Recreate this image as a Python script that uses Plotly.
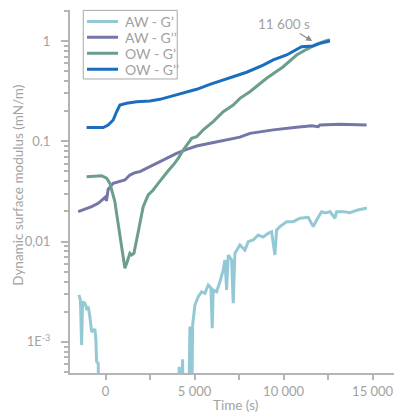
import plotly.graph_objects as go

# ---------------- data ----------------
aw_g1_t = [-1500, -1416, -1348, -1292, -1163, -1067, -978, -882, -787, -697, -601, -545, -506, -416, -360,
           4079, 4135, 4202, 4326, 4371, 4641, 4736, 4820, 4888, 5017, 5202, 5393, 5579, 5764, 5916, 5989,
           6045, 6236, 6421, 6607, 6702, 6798, 6888, 7079, 7169, 7264, 7545, 7826, 8011, 8292, 8573, 8854,
           9135, 9326, 9511, 9607, 9792, 10169, 10540, 10916, 11382, 11663, 11854, 12135, 12377, 12601,
           12882, 12977, 13348, 13724, 14174, 14680]
aw_g1_v = [0.00294, 0.00262, 0.00093, 0.00252, 0.00243, 0.00216, 0.00224, 0.00178, 0.00126, 0.00131, 0.00134,
           0.00104, 0.000635, 0.000612, 0.0001,
           0.0001, 0.000566, 0.0001, 0.00067, 0.0001, 0.0001, 0.00142, 0.0001, 0.00147, 0.00233, 0.00282,
           0.00316, 0.00305, 0.00369, 0.00345, 0.00137, 0.00329, 0.00316, 0.00398, 0.00521, 0.00656, 0.00329,
           0.00735, 0.00656, 0.00243, 0.00764, 0.00925, 0.00824, 0.00998, 0.01038, 0.01164, 0.0111, 0.0121,
           0.01256, 0.00735, 0.01305, 0.0141, 0.0158, 0.0158, 0.0171, 0.01746, 0.0141, 0.0164, 0.01987,
           0.0193, 0.0199, 0.0171, 0.0199, 0.0199, 0.0194, 0.0207, 0.0216]

aw_g2_t = [-1539, -1163, -787, -416, -135, 0, 45, 146, 427, 803, 1084, 1365, 1646, 1927, 2303, 2865, 3427,
           3989, 4551, 5112, 5860, 6607, 7545, 8107, 9416, 10730, 11573, 11944, 12039, 13163, 14663]
aw_g2_v = [0.01986, 0.0210, 0.0223, 0.0241, 0.0264, 0.0279, 0.0254, 0.0334, 0.0381, 0.0395, 0.0411, 0.0461,
           0.0486, 0.0498, 0.0538, 0.0604, 0.0677, 0.0759, 0.0832, 0.0898, 0.0955, 0.1014, 0.110, 0.120,
           0.130, 0.138, 0.143, 0.140, 0.1455, 0.148, 0.1455]

ow_g1_t = [-1067, -225, 56, 242, 393, 522, 618, 803, 955, 1084, 1213, 1365, 1461, 1590, 1742, 1927, 2112,
           2393, 2674, 2955, 3236, 3517, 3798, 4079, 4360, 4640, 4832, 5112, 5483, 6045, 6607, 7169, 7545,
           8107, 9045, 9978, 10730, 11292, 11854, 12506, 12600]
ow_g1_v = [0.0444, 0.0454, 0.0428, 0.0381, 0.0303, 0.0250, 0.0191, 0.0112, 0.00764, 0.00542, 0.0063, 0.00764,
           0.00735, 0.00764, 0.01038, 0.0152, 0.0223, 0.0292, 0.0327, 0.0381, 0.0444, 0.0509, 0.0580, 0.0677,
           0.0819, 0.0962, 0.107, 0.111, 0.130, 0.157, 0.197, 0.230, 0.268, 0.312, 0.425, 0.554, 0.725, 0.826,
           0.933, 1.023, 1.02]

ow_g2_t = [-1067, -135, 146, 427, 618, 803, 1180, 1742, 2489, 3051, 3613, 4360, 5112, 5860, 6607, 7545, 7921,
           8854, 9416, 10169, 10540, 11011, 11663, 12039, 12601]
ow_g2_v = [0.137, 0.137, 0.1455, 0.163, 0.197, 0.230, 0.239, 0.248, 0.252, 0.262, 0.279, 0.301, 0.330, 0.370,
           0.408, 0.466, 0.488, 0.576, 0.647, 0.725, 0.782, 0.877, 0.892, 0.948, 1.0]

series_names = ["AW - G’", "AW - G’’", "OW - G’", "OW - G’’"]
series_colors = ["#93c9d5", "#7476a7", "#6b9e8c", "#1a6ebd"]

x_tickvals = [0, 5000, 10000, 15000]
x_ticktext = ["0", "5 000", "10 000", "15 000"]
y_tickvals = [0.001, 0.01, 0.1, 1]
y_ticktext = ["1E<sup>-3</sup>", "0,01", "0.1", "1"]

x_title = "Time (s)"
y_title = "Dynamic surface modulus (mN/m)"
annot_time = 11600
annot_text = "11 600 s"

# ---------------- figure ----------------
FONT = "Lato"
GREY = "#a2a2a2"
AXIS = "#b5b5b5"

fig = go.Figure()
for t, v, name, col in zip([aw_g1_t, aw_g2_t, ow_g1_t, ow_g2_t],
                           [aw_g1_v, aw_g2_v, ow_g1_v, ow_g2_v],
                           series_names, series_colors):
    fig.add_trace(go.Scatter(x=t, y=v, mode="lines", name=name, showlegend=False,
                             line=dict(color=col, width=3)))

minor_y = [m * 10 ** e for e in range(-4, 1) for m in range(2, 10)]

# page body has an 8px margin -> figure is sized 8px smaller so the plot sits where the reference has it
fig.update_layout(
    width=394, height=406,
    margin=dict(l=62, r=0, t=2, b=41),
    paper_bgcolor="white", plot_bgcolor="white",
    font=dict(family=FONT, color=GREY, size=13),
    showlegend=False,
    xaxis=dict(range=[-2000, 16650], showgrid=False, zeroline=False, automargin=False,
               showline=True, linecolor=AXIS, linewidth=2,
               tickmode="array", tickvals=x_tickvals, ticktext=x_ticktext,
               ticks="outside", ticklen=5, tickcolor=AXIS, tickwidth=1.5,
               minor=dict(tickmode="linear", tick0=0, dtick=2500, ticks="outside",
                          ticklen=5, tickcolor=AXIS, tickwidth=1.5, showgrid=False),
               tickfont=dict(size=13, color=GREY)),
    yaxis=dict(type="log", range=[-3.31, 0.309], showgrid=False, zeroline=False, automargin=False,
               showline=True, linecolor=AXIS, linewidth=2,
               tickmode="array", tickvals=y_tickvals, ticktext=y_ticktext,
               ticks="outside", ticklen=7, tickcolor=AXIS, tickwidth=1.5,
               minor=dict(tickmode="array", tickvals=minor_y, ticks="outside",
                          ticklen=4, tickcolor=AXIS, tickwidth=1.5, showgrid=False),
               tickfont=dict(size=13, color=GREY), ticklabelstandoff=8),
)

# axis titles
fig.add_annotation(x=0.497, y=-0.088, xref="paper", yref="paper", text=x_title, showarrow=False,
                   xanchor="center", yanchor="middle", font=dict(size=13.5, color=GREY, family=FONT))
fig.add_annotation(x=-0.157, y=0.518, xref="paper", yref="paper", text=y_title, showarrow=False,
                   textangle=-90, xanchor="center", yanchor="middle",
                   font=dict(size=13.5, color=GREY, family=FONT))

# legend (drawn manually to match compact spacing)
fig.add_shape(type="rect", xref="paper", yref="paper", x0=0.040, x1=0.323, y0=0.810, y1=0.999,
              line=dict(color="#a8a8a8", width=1), fillcolor="white", layer="above")
row_y = [0.968, 0.925, 0.881, 0.837]
for name, col, ry in zip(series_names, series_colors, row_y):
    fig.add_shape(type="line", xref="paper", yref="paper", x0=0.0512, x1=0.1446, y0=ry, y1=ry,
                  line=dict(color=col, width=3), layer="above")
    fig.add_annotation(x=0.160, y=ry, xref="paper", yref="paper", text=name, showarrow=False,
                       xanchor="left", yanchor="middle", font=dict(size=14, color=GREY, family=FONT))

fig.add_annotation(x=annot_time, y=0, xref="x", yref="y", text=annot_text,
                   showarrow=True, arrowhead=2, arrowsize=1, arrowwidth=1.2,
                   arrowcolor="#8c8c8c", ax=-28, ay=-17, standoff=0,
                   font=dict(size=13.5, color=GREY, family=FONT))

fig.write_html("out.html")
